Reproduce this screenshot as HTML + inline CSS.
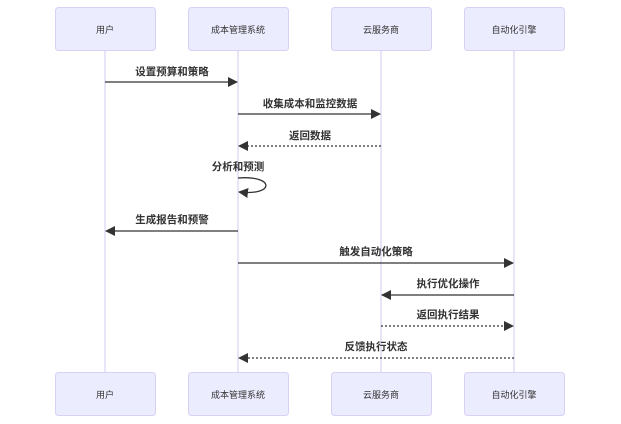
<!DOCTYPE html>
<html><head><meta charset="utf-8"><style>
html,body{margin:0;padding:0;background:#fff;}
svg{display:block;}
text{font-family:"Liberation Sans","Noto Sans CJK SC",sans-serif;}
</style></head><body>
<svg width="621" height="424" viewBox="0 0 621 424" xmlns="http://www.w3.org/2000/svg">
<defs>
<marker id="a" markerWidth="10" markerHeight="10" refX="9" refY="5" orient="auto" markerUnits="userSpaceOnUse"><path d="M0,0 L10,5 L0,10 z" fill="#333"/></marker>
</defs>
<g stroke="#d3c9f0" stroke-width="1">
<line x1="105" y1="50" x2="105" y2="372"/>
<line x1="238" y1="50" x2="238" y2="372"/>
<line x1="381" y1="50" x2="381" y2="372"/>
<line x1="514" y1="50" x2="514" y2="372"/>
</g>
<g fill="#ECECFF" stroke="#d8d0f5" stroke-width="1">
<rect x="55.5" y="7.5" width="100" height="43" rx="3"/>
<rect x="188.5" y="7.5" width="100" height="43" rx="3"/>
<rect x="331.5" y="7.5" width="100" height="43" rx="3"/>
<rect x="464.5" y="7.5" width="100" height="43" rx="3"/>
<rect x="55.5" y="372.5" width="100" height="43" rx="3"/>
<rect x="188.5" y="372.5" width="100" height="43" rx="3"/>
<rect x="331.5" y="372.5" width="100" height="43" rx="3"/>
<rect x="464.5" y="372.5" width="100" height="43" rx="3"/>
</g>
<g font-size="9" fill="#333" text-anchor="middle">
<text x="105" y="33">用户</text><text x="238" y="33">成本管理系统</text><text x="381" y="33">云服务商</text><text x="514" y="33">自动化引擎</text>
<text x="105" y="398">用户</text><text x="238" y="398">成本管理系统</text><text x="381" y="398">云服务商</text><text x="514" y="398">自动化引擎</text>
</g>
<g stroke="#333" stroke-width="1.3" fill="none" marker-end="url(#a)">
<line x1="105" y1="82" x2="237" y2="82"/>
<line x1="238" y1="114" x2="380" y2="114"/>
<line x1="381" y1="146" x2="239" y2="146" stroke-dasharray="2,2"/>
<path d="M238,178 C275,175 275,196 239,192"/>
<line x1="238" y1="231" x2="106" y2="231"/>
<line x1="238" y1="263" x2="513" y2="263"/>
<line x1="514" y1="295" x2="382" y2="295"/>
<line x1="381" y1="326" x2="513" y2="326" stroke-dasharray="2,2"/>
<line x1="514" y1="358" x2="239" y2="358" stroke-dasharray="2,2"/>
</g>
<g font-size="10.5" fill="#333" text-anchor="middle" font-weight="bold">
<text x="172" y="75">设置预算和策略</text>
<text x="310" y="107">收集成本和监控数据</text>
<text x="310" y="139">返回数据</text>
<text x="238" y="170">分析和预测</text>
<text x="172" y="223">生成报告和预警</text>
<text x="376" y="255">触发自动化策略</text>
<text x="448" y="287">执行优化操作</text>
<text x="448" y="318">返回执行结果</text>
<text x="376" y="350">反馈执行状态</text>
</g>
</svg>
</body></html>
